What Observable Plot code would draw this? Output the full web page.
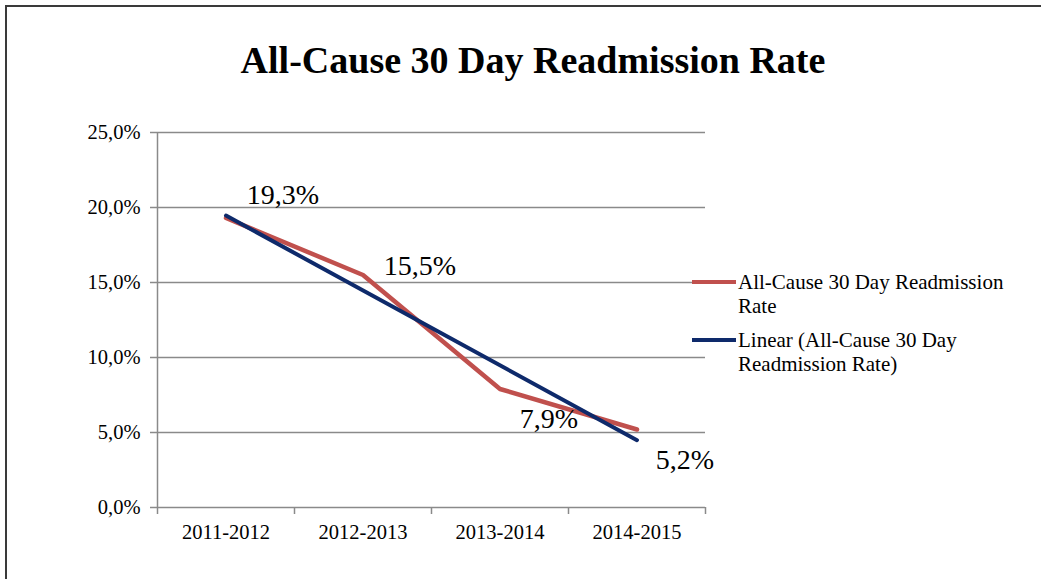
<!DOCTYPE html>
<html>
<head>
<meta charset="utf-8">
<script src="https://cdn.jsdelivr.net/npm/d3@7"></script>
<script src="https://cdn.jsdelivr.net/npm/@observablehq/plot@0.6"></script>
<style>
  html, body { margin: 0; padding: 0; background: #fff; overflow: hidden; width: 1041px; height: 579px; }
  body { position: relative; font-family: "Liberation Serif", "Times New Roman", serif; color: #000; }
  #frame { position: absolute; left: 5px; top: 5px; width: 1100px; height: 700px; border: 2px solid #3a3a3a; box-sizing: border-box; }
  #chart { position: absolute; left: 0; top: 0; }
  #title { position: absolute; left: 0; top: 38px; width: 1066px; text-align: center; font-weight: bold; font-size: 38px; line-height: 44px; }
  #legend { position: absolute; left: 692px; top: 270px; font-size: 21px; line-height: 24px; }
  .item { display: flex; align-items: flex-start; margin-bottom: 10px; }
  .swatch { width: 44px; height: 4px; margin-top: 10px; flex: none; }
  .label { margin-left: 2px; white-space: nowrap; }
  #chart svg text.datalabel, #chart svg g[aria-label="text"] text { font-family: "Liberation Serif", "Times New Roman", serif; }
</style>
</head>
<body>
<div id="frame"></div>
<div id="chart"></div>
<div id="title"></div>
<div id="legend"></div>
<script>
const chartTitle = "All-Cause 30 Day Readmission Rate";
const categories = ["2011-2012", "2012-2013", "2013-2014", "2014-2015"];
const rates = [19.3, 15.5, 7.9, 5.2];
const yTicks = [0, 5, 10, 15, 20, 25];
const seriesName = "All-Cause 30 Day Readmission Rate";
const trendName = "Linear (All-Cause 30 Day Readmission Rate)";
const legendLines = [["All-Cause 30 Day Readmission", "Rate"], ["Linear (All-Cause 30 Day", "Readmission Rate)"]];

const red = "#C0504D";
const navy = "#0E2A6B";
const gray = "#8a8a8a";
const serif = "'Liberation Serif', 'Times New Roman', serif";

const data = categories.map((c, i) => ({idx: i + 1, cat: c, value: rates[i]}));
const fmt = v => v.toFixed(1).replace(".", ",") + "%";
const boundaries = d3.range(0.5, categories.length + 1, 1);

const labelMark = (i, dx, dy) => Plot.text(data.filter((d, j) => j === i), {
  x: "idx", y: "value", text: d => fmt(d.value), dx, dy,
  fontSize: 28, fontFamily: serif, fill: "#000", textAnchor: "middle"
});

const plot = Plot.plot({
  width: 1041,
  height: 579,
  marginLeft: 157,
  marginRight: 336,
  marginTop: 132,
  marginBottom: 72,
  style: {fontFamily: serif, background: "transparent", overflow: "visible"},
  x: {type: "linear", domain: [0.5, categories.length + 0.5]},
  y: {domain: [0, 25]},
  marks: [
    Plot.gridY(yTicks, {stroke: gray, strokeOpacity: 1, strokeWidth: 1.5}),
    Plot.ruleX([0.5], {stroke: gray, strokeWidth: 1.5}),
    Plot.axisY(yTicks, {tickSize: 7, tickPadding: 10, stroke: gray, strokeOpacity: 1, strokeWidth: 1.5, tickFormat: fmt, fontSize: 20.5, fontFamily: serif, fill: "#000", label: null}),
    Plot.axisX(boundaries, {tickSize: 7, tickFormat: () => "", stroke: gray, strokeOpacity: 1, strokeWidth: 1.5, label: null}),
    Plot.axisX(data.map(d => d.idx), {tickSize: 0, tickPadding: 17, tickFormat: v => categories[v - 1], fontSize: 20.5, fontFamily: serif, fill: "#000", label: null}),
    Plot.lineY(data, {x: "idx", y: "value", stroke: red, strokeWidth: 4.5, strokeLinejoin: "miter"}),
    Plot.linearRegressionY(data, {x: "idx", y: "value", ci: 0, stroke: navy, strokeWidth: 4}),
    labelMark(0, 57, -23),
    labelMark(1, 57, -9),
    labelMark(2, 49, 30),
    labelMark(3, 48, 31)
  ]
});
document.getElementById("chart").append(plot);
document.getElementById("title").textContent = chartTitle;

const legend = document.getElementById("legend");
[[red, legendLines[0], seriesName], [navy, legendLines[1], trendName]].forEach(([color, lines, name]) => {
  const item = document.createElement("div");
  item.className = "item";
  item.title = name;
  const sw = document.createElement("div");
  sw.className = "swatch";
  sw.style.background = color;
  const lab = document.createElement("div");
  lab.className = "label";
  lab.innerHTML = lines.join("<br>");
  item.append(sw, lab);
  legend.append(item);
});
</script>
</body>
</html>
